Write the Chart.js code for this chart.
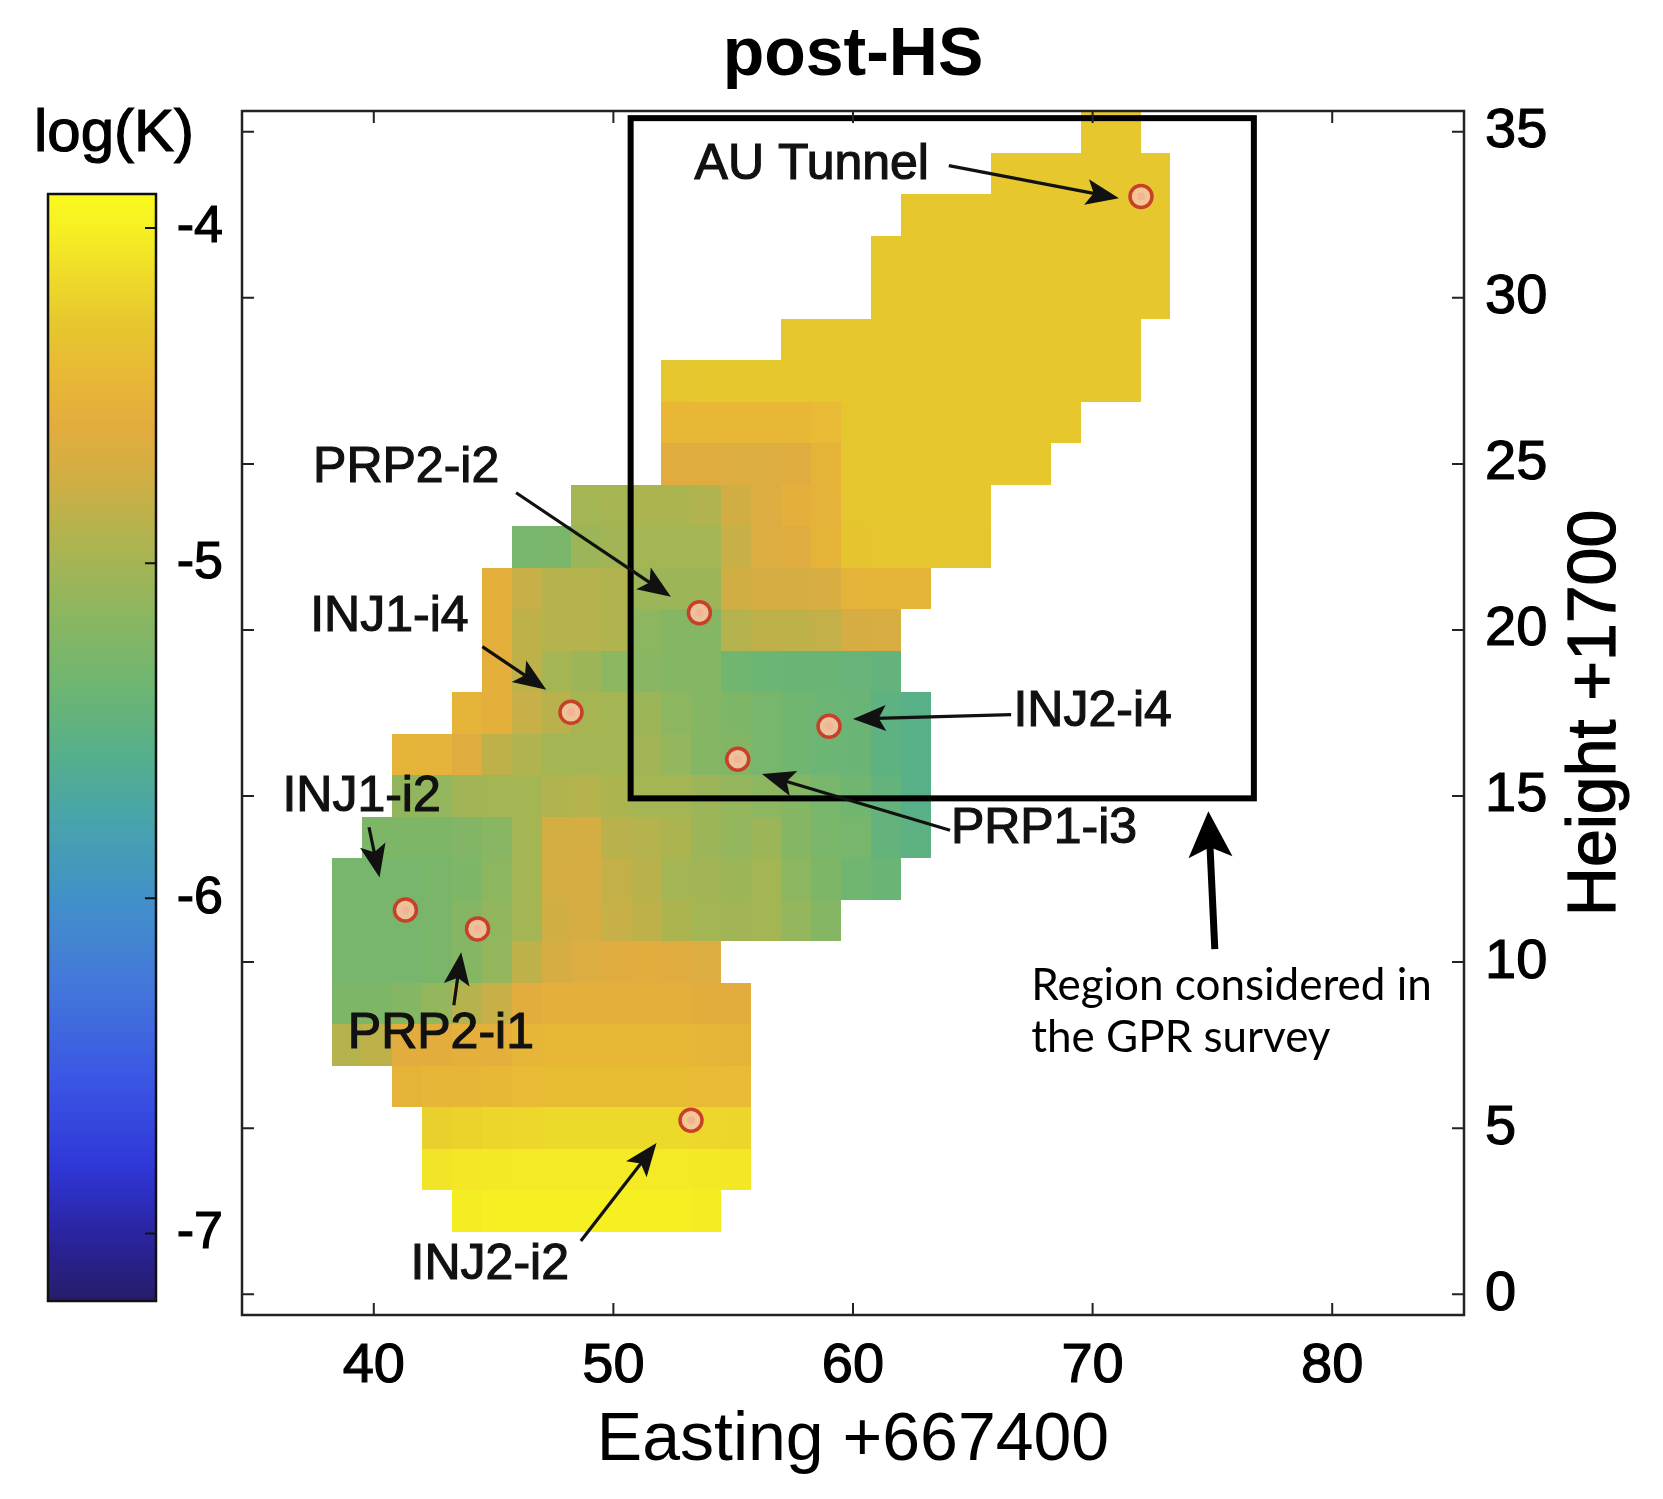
<!DOCTYPE html>
<html>
<head>
<meta charset="utf-8">
<title>post-HS</title>
<script src="https://cdn.jsdelivr.net/npm/chart.js@4.4.1/dist/chart.umd.min.js"></script>
<style>
  html, body { margin: 0; padding: 0; background: #fff; }
  #contenedor { width: 1663px; height: 1499px; }
</style>
</head>
<body>
<div id="contenedor"><canvas id="grafico" width="1663" height="1499"></canvas></div>
<script>
// malla de celdas de 1.25 m (columna 0 empieza en 38.25, fila 0 en 1.875)
const celda = 1.25;
const xInicio = 38.25;
const yInicio = 1.875;

// primera columna ocupada de cada fila (fila 0 = abajo)
const colInicio = [4, 3, 3, 2, 0, 0, 0, 0, 0, 1, 2, 2, 4, 5, 5, 5, 6, 8, 11, 11, 11, 15, 18, 18, 19, 22, 25];

// log(K) por celda, fila por fila
const logK = [
  [-4.02, -4.0, -4.0, -4.0, -4.0, -4.0, -4.0, -4.0, -4.02],
  [-4.08, -4.06, -4.05, -4.04, -4.04, -4.04, -4.04, -4.04, -4.04, -4.05, -4.06],
  [-4.22, -4.2, -4.18, -4.17, -4.16, -4.16, -4.16, -4.16, -4.16, -4.17, -4.18],
  [-4.5, -4.48, -4.46, -4.45, -4.42, -4.4, -4.4, -4.4, -4.4, -4.4, -4.42, -4.42],
  [-4.9, -4.85, -4.6, -4.58, -4.55, -4.55, -4.48, -4.45, -4.45, -4.45, -4.45, -4.45, -4.48, -4.5],
  [-5.25, -5.25, -5.2, -5.1, -4.9, -4.8, -4.6, -4.55, -4.55, -4.55, -4.55, -4.55, -4.58, -4.6],
  [-5.3, -5.3, -5.3, -5.28, -5.2, -5.1, -4.85, -4.7, -4.65, -4.62, -4.6, -4.62, -4.65],
  [-5.3, -5.3, -5.3, -5.28, -5.2, -5.12, -5.0, -4.75, -4.7, -4.8, -4.85, -4.95, -5.0, -5.02, -5.0, -5.1, -5.2],
  [-5.3, -5.3, -5.3, -5.28, -5.25, -5.15, -5.0, -4.72, -4.7, -4.82, -4.88, -5.0, -5.02, -5.05, -5.0, -5.15, -5.25, -5.35, -5.4],
  [-5.25, -5.25, -5.25, -5.22, -5.18, -5.0, -4.72, -4.72, -4.88, -4.9, -4.95, -5.05, -5.1, -5.05, -5.2, -5.28, -5.3, -5.45, -5.5],
  [-5.12, -5.1, -5.02, -5.0, -5.0, -4.92, -4.9, -4.95, -5.0, -5.0, -5.05, -5.1, -5.15, -5.2, -5.3, -5.35, -5.45, -5.55],
  [-4.5, -4.52, -4.62, -4.85, -4.92, -5.0, -5.0, -5.0, -5.02, -5.1, -5.2, -5.22, -5.3, -5.35, -5.38, -5.4, -5.5, -5.55],
  [-4.5, -4.55, -4.8, -4.88, -4.98, -5.0, -5.05, -5.15, -5.2, -5.25, -5.3, -5.35, -5.38, -5.4, -5.5, -5.55],
  [-4.55, -4.85, -5.0, -5.05, -5.15, -5.18, -5.2, -5.2, -5.35, -5.38, -5.4, -5.4, -5.42, -5.45],
  [-4.55, -4.85, -4.9, -4.9, -4.92, -5.15, -5.2, -5.2, -4.9, -4.85, -4.85, -4.82, -4.7, -4.68],
  [-4.55, -4.8, -4.9, -4.9, -4.92, -5.05, -5.05, -5.05, -4.75, -4.7, -4.7, -4.68, -4.52, -4.5, -4.5],
  [-5.3, -5.28, -5.05, -5.02, -5.0, -5.0, -5.0, -4.8, -4.65, -4.62, -4.5, -4.32, -4.3, -4.3, -4.3, -4.3],
  [-5.0, -4.98, -4.95, -4.95, -4.92, -4.75, -4.65, -4.55, -4.52, -4.3, -4.28, -4.28, -4.28, -4.28],
  [-4.62, -4.62, -4.65, -4.65, -4.62, -4.5, -4.3, -4.28, -4.28, -4.28, -4.28, -4.28, -4.28],
  [-4.45, -4.45, -4.45, -4.45, -4.45, -4.42, -4.3, -4.28, -4.28, -4.28, -4.28, -4.28, -4.28, -4.28],
  [-4.3, -4.28, -4.28, -4.28, -4.28, -4.28, -4.28, -4.28, -4.28, -4.28, -4.28, -4.28, -4.28, -4.28, -4.28, -4.28],
  [-4.28, -4.28, -4.28, -4.28, -4.28, -4.28, -4.28, -4.28, -4.28, -4.28, -4.28, -4.28],
  [-4.28, -4.28, -4.28, -4.28, -4.28, -4.28, -4.28, -4.28, -4.28, -4.28],
  [-4.28, -4.28, -4.28, -4.28, -4.28, -4.28, -4.28, -4.28, -4.28, -4.28],
  [-4.28, -4.28, -4.28, -4.28, -4.28, -4.28, -4.28, -4.28, -4.28],
  [-4.28, -4.28, -4.28, -4.28, -4.28, -4.28],
  [-4.28, -4.28]
];

// puntos de inyeccion / bombeo
const pozoNombre = ['AU Tunnel', 'PRP2-i2', 'INJ1-i4', 'INJ2-i4', 'PRP1-i3', 'INJ1-i2', 'PRP2-i1', 'INJ2-i2'];
const pozoX = [72.02, 53.59, 48.23, 59.0, 55.19, 41.32, 44.33, 53.24];
const pozoY = [33.05, 20.52, 17.52, 17.1, 16.11, 11.57, 11.0, 5.24];

const ticksX = [40, 50, 60, 70, 80];
const ticksY = [0, 5, 10, 15, 20, 25, 30, 35];
const ticksCb = [-4, -5, -6, -7];
const limitesCb = [-7.2, -3.9];

// donde van las etiquetas y flechas (coordenadas de datos)
const notas = [
  { texto: 'AU Tunnel', x: 58.28, y: 33.98, desde: [64.0, 33.98], hasta: [71.1, 33.0] },
  { texto: 'PRP2-i2', x: 41.35, y: 24.87, desde: [45.94, 24.13], hasta: [52.4, 21.0] },
  { texto: 'INJ1-i4', x: 40.65, y: 20.39, desde: [44.53, 19.5], hasta: [47.2, 18.2] },
  { texto: 'INJ2-i4', x: 70.0, y: 17.52, desde: [66.6, 17.45], hasta: [60.0, 17.32] },
  { texto: 'PRP1-i3', x: 67.97, y: 14.0, desde: [64.05, 13.97], hasta: [56.2, 15.66] },
  { texto: 'INJ1-i2', x: 39.49, y: 14.96, desde: [39.8, 14.06], hasta: [40.24, 12.55] },
  { texto: 'PRP2-i1', x: 42.8, y: 7.83, desde: [43.34, 8.7], hasta: [43.65, 10.3] },
  { texto: 'INJ2-i2', x: 44.84, y: 0.86, desde: [48.64, 1.6], hasta: [51.8, 4.55] }
];
const zonaGPR = { x0: 50.72, x1: 76.73, y0: 14.93, y1: 35.41 };

const FUENTE = "'Liberation Sans', Arial, Helvetica, sans-serif";

const paradas = [
  [-7.2, [38, 28, 105]], [-7.0, [42, 36, 160]], [-6.8, [48, 55, 215]], [-6.55, [58, 85, 228]],
  [-6.25, [68, 120, 218]], [-6.0, [65, 145, 200]], [-5.75, [72, 165, 168]], [-5.55, [88, 176, 136]],
  [-5.35, [112, 182, 112]], [-5.15, [140, 182, 96]], [-4.95, [172, 180, 80]], [-4.75, [208, 174, 68]],
  [-4.6, [226, 172, 62]], [-4.45, [232, 183, 54]], [-4.28, [230, 200, 46]], [-4.15, [238, 218, 42]],
  [-4.0, [246, 240, 35]], [-3.9, [250, 250, 30]]
];

function colorDe(v) {
  if (v <= paradas[0][0]) return 'rgb(' + paradas[0][1].join(',') + ')';
  for (let i = 1; i < paradas.length; i++) {
    const [v1, c1] = paradas[i];
    const [v0, c0] = paradas[i - 1];
    if (v <= v1) {
      const t = (v - v0) / (v1 - v0);
      const c = c0.map((a, k) => Math.round(a + (c1[k] - a) * t));
      return 'rgb(' + c.join(',') + ')';
    }
  }
  return 'rgb(' + paradas[paradas.length - 1][1].join(',') + ')';
}

function flecha(ctx, x1, y1, x2, y2, grosor, largo, ancho) {
  const a = Math.atan2(y2 - y1, x2 - x1);
  const cos = Math.cos(a), sin = Math.sin(a);
  const bx = x2 - largo * cos, by = y2 - largo * sin;
  ctx.lineWidth = grosor;
  ctx.beginPath();
  ctx.moveTo(x1, y1);
  ctx.lineTo(x2 - largo * 0.7 * cos, y2 - largo * 0.7 * sin);
  ctx.stroke();
  ctx.beginPath();
  ctx.moveTo(x2, y2);
  ctx.lineTo(bx + ancho / 2 * sin, by - ancho / 2 * cos);
  ctx.lineTo(x2 - largo * 0.78 * cos, y2 - largo * 0.78 * sin);
  ctx.lineTo(bx - ancho / 2 * sin, by + ancho / 2 * cos);
  ctx.closePath();
  ctx.fill();
}

function textoGrueso(ctx, txt, px, py) {
  ctx.fillText(txt, px, py);
  ctx.strokeText(txt, px, py);
}

const pluginMapa = {
  id: 'mapa',
  beforeDatasetsDraw(chart) {
    const { ctx, chartArea, scales: { x, y } } = chart;
    ctx.save();
    ctx.beginPath();
    ctx.rect(chartArea.left, chartArea.top, chartArea.width, chartArea.height);
    ctx.clip();
    logK.forEach((fila, r) => {
      const yb = yInicio + r * celda;
      const arriba = Math.round(y.getPixelForValue(yb + celda));
      const abajo = Math.round(y.getPixelForValue(yb));
      fila.forEach((v, i) => {
        const xb = xInicio + (colInicio[r] + i) * celda;
        const izq = Math.round(x.getPixelForValue(xb));
        const der = Math.round(x.getPixelForValue(xb + celda));
        ctx.fillStyle = colorDe(v);
        ctx.fillRect(izq, arriba, der - izq, abajo - arriba);
      });
    });
    ctx.restore();
  },
  afterDatasetsDraw(chart) {
    const { ctx, chartArea: ca, scales: { x, y } } = chart;
    ctx.save();
    // recuadro de la zona GPR
    ctx.strokeStyle = '#000';
    ctx.lineWidth = 6;
    const gx0 = x.getPixelForValue(zonaGPR.x0), gx1 = x.getPixelForValue(zonaGPR.x1);
    const gy0 = y.getPixelForValue(zonaGPR.y1), gy1 = y.getPixelForValue(zonaGPR.y0);
    ctx.strokeRect(gx0, gy0, gx1 - gx0, gy1 - gy0);

    // flechas y etiquetas
    ctx.fillStyle = '#111';
    ctx.strokeStyle = '#111';
    notas.forEach(n => {
      flecha(ctx, x.getPixelForValue(n.desde[0]), y.getPixelForValue(n.desde[1]),
        x.getPixelForValue(n.hasta[0]), y.getPixelForValue(n.hasta[1]), 3.2, 33, 26);
    });
    ctx.font = '50px ' + FUENTE;
    ctx.textAlign = 'center';
    ctx.textBaseline = 'middle';
    ctx.lineWidth = 1.2;
    notas.forEach(n => {
      textoGrueso(ctx, n.texto, x.getPixelForValue(n.x), y.getPixelForValue(n.y));
    });

    // flecha gruesa y texto de la zona GPR
    ctx.fillStyle = '#000';
    ctx.strokeStyle = '#000';
    flecha(ctx, x.getPixelForValue(75.1), y.getPixelForValue(10.39),
      x.getPixelForValue(74.83), y.getPixelForValue(14.54), 7, 46, 44);
    ctx.font = "44px Lato, 'Open Sans', sans-serif";
    ctx.textAlign = 'left';
    ctx.textBaseline = 'alphabetic';
    ctx.fillText('Region considered in', x.getPixelForValue(67.44), y.getPixelForValue(8.85));
    ctx.fillText('the GPR survey', x.getPixelForValue(67.44), y.getPixelForValue(7.29));

    // marco y marcas hacia dentro
    ctx.strokeStyle = '#222';
    ctx.lineWidth = 2.5;
    ctx.strokeRect(ca.left, ca.top, ca.width, ca.height);
    ctx.lineWidth = 2;
    ctx.beginPath();
    x.ticks.forEach(t => {
      const px = x.getPixelForValue(t.value);
      ctx.moveTo(px, ca.bottom); ctx.lineTo(px, ca.bottom - 12);
      ctx.moveTo(px, ca.top); ctx.lineTo(px, ca.top + 12);
    });
    y.ticks.forEach(t => {
      const py = y.getPixelForValue(t.value);
      ctx.moveTo(ca.left, py); ctx.lineTo(ca.left + 12, py);
      ctx.moveTo(ca.right, py); ctx.lineTo(ca.right - 12, py);
    });
    ctx.stroke();
    ctx.restore();
  },
  afterDraw(chart) {
    const { ctx, chartArea: ca, scales: { y, cb } } = chart;
    ctx.save();
    // barra de colores
    const arriba = Math.round(cb.getPixelForValue(limitesCb[1]));
    const abajo = Math.round(cb.getPixelForValue(limitesCb[0]));
    const izq = cb.left + 48, ancho = 108;
    for (let p = arriba; p < abajo; p++) {
      ctx.fillStyle = colorDe(cb.getValueForPixel(p + 0.5));
      ctx.fillRect(izq, p, ancho, 1);
    }
    ctx.strokeStyle = '#111';
    ctx.lineWidth = 2.5;
    ctx.strokeRect(izq, arriba, ancho, abajo - arriba);
    ctx.lineWidth = 2;
    ctx.beginPath();
    cb.ticks.forEach(t => {
      const py = cb.getPixelForValue(t.value);
      ctx.moveTo(izq + ancho, py); ctx.lineTo(izq + ancho - 11, py);
    });
    ctx.stroke();
    ctx.fillStyle = '#000';
    ctx.strokeStyle = '#000';
    ctx.lineWidth = 1.2;
    ctx.font = '60px ' + FUENTE;
    ctx.textAlign = 'center';
    ctx.textBaseline = 'alphabetic';
    textoGrueso(ctx, 'log(K)', izq + ancho / 2 + 12, arriba - 43);

    // titulo del eje derecho, leido de abajo hacia arriba
    ctx.translate(y.right - 67, (ca.top + ca.bottom) / 2);
    ctx.rotate(-Math.PI / 2);
    ctx.font = '68px ' + FUENTE;
    ctx.textBaseline = 'middle';
    textoGrueso(ctx, 'Height +1700', 0, 0);
    ctx.restore();
  }
};

const puntos = pozoX.map((v, i) => ({ x: v, y: pozoY[i] }));

const letraTicks = { textStrokeColor: '#000', textStrokeWidth: 1.2, color: '#000' };

new Chart(document.getElementById('grafico'), {
  type: 'scatter',
  data: {
    datasets: [
      {
        label: 'pozos',
        data: puntos,
        pointRadius: 11,
        pointBackgroundColor: 'rgba(246, 196, 160, 0.9)',
        pointBorderColor: '#c8402a',
        pointBorderWidth: 3.5
      },
      {
        label: 'centro',
        data: puntos,
        pointRadius: 4,
        pointBackgroundColor: '#c81e32',
        pointBorderWidth: 0
      }
    ]
  },
  options: {
    responsive: false,
    animation: false,
    devicePixelRatio: 1,
    events: [],
    layout: { padding: 0 },
    plugins: {
      legend: { display: false },
      tooltip: { enabled: false },
      title: {
        display: true,
        text: 'post-HS',
        fullSize: false,
        color: '#000',
        font: { family: FUENTE, size: 68, weight: 'bold' },
        padding: { top: 15, bottom: 14.4 }
      }
    },
    scales: {
      x: {
        type: 'linear',
        position: 'bottom',
        min: 34.5,
        max: 85.5,
        afterFit: s => { s.height = 184; },
        grid: { display: false, drawTicks: false },
        border: { display: false },
        ticks: Object.assign({
          stepSize: 10, includeBounds: false, padding: 18,
          font: { family: FUENTE, size: 56 }
        }, letraTicks),
        title: {
          display: true,
          text: 'Easting +667400',
          color: '#000',
          font: { family: FUENTE, size: 68 },
          padding: { top: 0, bottom: 17 }
        }
      },
      y: {
        type: 'linear',
        position: 'right',
        min: -0.625,
        max: 35.625,
        afterFit: s => { s.width = 199; },
        grid: { display: false, drawTicks: false },
        border: { display: false },
        ticks: Object.assign({
          stepSize: 5, includeBounds: false, padding: 21,
          font: { family: FUENTE, size: 56 }
        }, letraTicks)
      },
      cb: {
        type: 'linear',
        axis: 'y',
        position: 'left',
        min: -7.243,
        max: -3.651,
        afterFit: s => { s.width = 242; },
        grid: { display: false, drawTicks: false },
        border: { display: false },
        ticks: Object.assign({
          stepSize: 1, includeBounds: false, padding: 19,
          font: { family: FUENTE, size: 52 }
        }, letraTicks)
      }
    }
  },
  plugins: [pluginMapa]
});
</script>
</body>
</html>
